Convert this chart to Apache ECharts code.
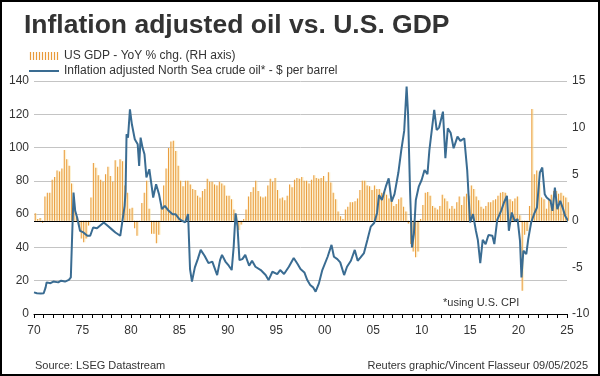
<!DOCTYPE html>
<html>
<head>
<meta charset="utf-8">
<script src="https://cdn.jsdelivr.net/npm/echarts@6/dist/echarts.min.js"></script>
<style>
  html, body { margin: 0; padding: 0; background: #fff; }
  #chart { width: 600px; height: 376px; }
</style>
</head>
<body>
<div id="chart"></div>
<script>
// US real GDP, YoY % change, quarterly from 1970 Q1 (right axis)
const gdpStartYear = 1970
const gdpYoY = [
  0.8, 0.2, 0.3, -0.2,   2.6, 3.0, 3.0, 4.4,   4.7, 5.4, 5.3, 5.6,   7.6, 6.6, 5.9, 4.0,
  1.5, 0.4, -0.6, -1.9,  -2.3, -1.9, -0.5, 2.5, 6.2, 5.7, 4.9, 4.4,  4.2, 5.0, 5.8, 4.8,
  4.2, 6.5, 5.8, 6.6,    6.4, 3.8, 3.0, 1.3,   1.4, -0.8, -1.6, -0.1, 1.9, 3.0, 4.3, 1.3,
  -1.4, -1.4, -2.4, -1.5, 1.6, 3.8, 5.6, 7.8,  8.5, 8.6, 7.5, 5.9,   4.3, 3.7, 4.3, 4.3,
  3.9, 3.4, 3.3, 2.7,    2.5, 3.2, 3.4, 4.5,   4.2, 4.2, 3.9, 3.8,   4.2, 4.0, 3.8, 2.7,
  2.7, 2.3, 1.2, 0.6,    -1.0, -0.4, 0.2, 1.2, 2.6, 3.1, 3.6, 4.3,   3.2, 2.6, 2.5, 2.6,
  3.8, 4.5, 4.2, 4.6,    3.3, 2.4, 2.5, 2.2,   2.7, 3.9, 3.6, 4.4,   4.6, 4.5, 4.7, 4.3,
  4.3, 4.0, 4.4, 4.9,    4.6, 4.5, 4.6, 4.8,   4.2, 5.2, 4.1, 3.0,   2.3, 1.0, 0.5, 0.2,
  1.2, 1.5, 2.0, 2.0,    2.1, 2.4, 3.3, 4.3,   4.3, 3.8, 3.7, 3.3,   3.8, 3.4, 3.4, 3.0,
  3.1, 2.8, 2.4, 2.6,    1.6, 1.8, 2.3, 2.5,   1.5, 1.0, -0.3, -2.5, -3.3, -3.9, -3.3, 0.2,
  1.7, 3.0, 3.1, 2.7,    1.6, 1.4, 1.2, 1.6,   2.8, 2.4, 2.1, 1.3,   1.6, 1.3, 2.0, 2.6,
  1.7, 2.6, 2.9, 2.7,    3.8, 3.4, 2.6, 2.2,   1.5, 1.3, 1.6, 2.0,   2.0, 2.2, 2.3, 2.7,
  3.0, 3.1, 3.0, 2.3,    2.3, 2.1, 2.4, 2.6,   0.6, -7.5, -1.5, -1.1, 1.6, 12.0, 5.0, 5.4,
  4.0, 2.5, 2.3, 1.3,    2.3, 2.8, 3.2, 3.2,   2.9, 3.0, 2.7, 2.5,   2.0
]

// Inflation adjusted North Sea crude oil, $ per barrel (left axis)
const oilYears = [
  1970.0, 1970.3, 1970.7, 1971.0, 1971.2, 1971.3, 1971.7, 1972.0, 1972.5, 1972.8, 1973.2, 1973.6, 1973.8, 1974.0,
  1974.08, 1974.25, 1974.45, 1974.75, 1975.1, 1975.5, 1975.8, 1976.1, 1976.5, 1976.8, 1977.2, 1977.6, 1978.0, 1978.4,
  1978.9, 1979.1, 1979.35, 1979.45, 1979.55, 1979.7, 1979.9, 1980.1, 1980.4, 1980.7, 1980.85, 1981.0, 1981.2, 1981.4,
  1981.6, 1981.9, 1982.0, 1982.3, 1982.6, 1982.9, 1983.2, 1983.5, 1983.9, 1984.3, 1984.6, 1985.0, 1985.3, 1985.6,
  1985.9, 1986.1, 1986.3, 1986.6, 1986.9, 1987.2, 1987.6, 1988.0, 1988.4, 1988.9, 1989.2, 1989.4, 1989.75, 1990.1,
  1990.4, 1990.6, 1990.8, 1991.0, 1991.2, 1991.5, 1991.8, 1992.2, 1992.5, 1992.85, 1993.4, 1993.9, 1994.2, 1994.6,
  1995.1, 1995.4, 1995.8, 1996.3, 1996.8, 1997.2, 1997.5, 1997.9, 1998.2, 1998.5, 1998.8, 1999.06, 1999.4, 1999.75,
  2000.3, 2000.7, 2000.95, 2001.3, 2001.6, 2002.0, 2002.3, 2002.7, 2003.1, 2003.4, 2003.7, 2004.05, 2004.4, 2004.75,
  2005.1, 2005.4, 2005.6, 2005.9, 2006.3, 2006.6, 2006.9, 2007.2, 2007.6, 2007.9, 2008.2, 2008.45, 2008.6, 2008.8,
  2009.0, 2009.2, 2009.4, 2009.7, 2010.0, 2010.3, 2010.6, 2010.8, 2011.3, 2011.55, 2011.8, 2012.2, 2012.45, 2012.7,
  2013.0, 2013.3, 2013.7, 2014.0, 2014.4, 2014.7, 2015.0, 2015.3, 2015.6, 2015.8, 2016.05, 2016.3, 2016.6, 2016.9,
  2017.3, 2017.5, 2017.8, 2018.2, 2018.5, 2018.8, 2019.0, 2019.3, 2019.6, 2019.9, 2020.15, 2020.3, 2020.5, 2020.8,
  2021.0, 2021.3, 2021.6, 2021.9, 2022.2, 2022.45, 2022.7, 2022.9, 2023.3, 2023.5, 2023.75, 2024.0, 2024.3, 2024.6,
  2024.8, 2025.0, 2025.2, 2025.35
]
const oilPrice = [
  13, 12.5, 12.3, 12.5, 16, 19, 18.5, 19.5, 19, 20, 19.5, 20.5, 22, 23,
  73, 62, 58, 50, 49, 47, 47, 52, 51.5, 53, 55, 53, 51, 49,
  47, 48, 65, 74, 108, 106, 123, 114, 105, 102, 89, 106, 100, 96,
  82, 87, 88, 70, 78, 72, 63, 65, 62, 60, 60, 57, 56, 55,
  60, 27, 19.5, 28, 33, 38.5, 35, 30.6, 31.5, 23.4, 32.4, 35.5, 31.5, 29,
  26.4, 40, 60.5, 52.5, 32.4, 33, 35.5, 29, 32, 28.4, 26.4, 23.4, 20.4, 25.4,
  24, 26.4, 24, 28.4, 33.6, 30, 27, 25, 20.4, 17.4, 16, 13.4, 18.4, 26.4,
  34.4, 41.5, 34.4, 33, 31, 23.4, 28.4, 32, 38.5, 32, 34, 36.6, 44.5, 52.5,
  54.7, 60.7, 71.5, 68.5, 76.5, 81.5, 67.5, 72, 85, 98.5, 110, 136.6, 120, 75,
  40, 48, 68.5, 76.5, 80.5, 86.5, 84, 98.5, 122.6, 110.6, 112, 121.6, 93.6, 111.6,
  108.7, 99.6, 106.6, 104, 105.6, 86.5, 55, 60, 50, 44.5, 30.5, 44.5, 42, 47.5,
  47, 42, 56.5, 62, 67, 71, 50, 61, 56, 57, 44, 22, 38, 36,
  45, 55, 60, 64, 85, 88, 72, 70, 68, 62, 76, 63, 68, 63,
  59, 60, 55, 52
]

const leftTicks = { min: 0, max: 140, interval: 20 }
const rightTicks = { min: -10, max: 15, interval: 5 }

const gdpName = 'US GDP - YoY % chg. (RH axis)'
const oilName = 'Inflation adjusted North Sea crude oil* - $ per barrel'

const gdpData = gdpYoY.map((v, i) => [gdpStartYear + i / 4 + 0.125, v])
const oilData = oilYears.map((y, i) => [y, oilPrice[i]])

const font = '"Liberation Sans", Arial, sans-serif'
// legend icons
const stripes = 'path://' + Array.from({ length: 10 }, (_, i) => `M${i * 3},0h1.2v8h-1.2z`).join(' ')
const lineIcon = 'path://M0,3h30v2h-30z M0,0h0.01v0.01h-0.01z M0,8h0.01v-0.01h-0.01z'

const chart = echarts.init(document.getElementById('chart'), null, { renderer: 'canvas' })
const option = {
  backgroundColor: '#fff',
  animation: false,
  textStyle: { fontFamily: font },
  title: {
    text: 'Inflation adjusted oil vs. U.S. GDP',
    left: 19,
    top: 7,
    textStyle: { fontSize: 26.5, fontWeight: 'bold', color: '#333', fontFamily: font }
  },
  legend: {
    orient: 'vertical',
    left: 29,
    top: 50,
    padding: 0,
    itemGap: 3,
    itemWidth: 30,
    itemHeight: 8,
    textStyle: { fontSize: 12, color: '#333', fontFamily: font },
    data: [
      { name: gdpName, icon: stripes },
      { name: oilName, icon: lineIcon }
    ]
  },
  grid: {
    left: 34,
    right: 33,
    top: 81,
    bottom: 62
  },
  xAxis: {
    type: 'value',
    min: 1970,
    max: 2025,
    interval: 5,
    splitLine: { show: false },
    axisLine: { onZero: false, lineStyle: { color: '#000', width: 1 } },
    axisTick: { show: true, length: 4, lineStyle: { color: '#000' } },
    minorTick: { show: true, splitNumber: 5, length: 4, lineStyle: { color: '#000' } },
    axisLabel: {
      margin: 11,
      fontSize: 12,
      color: '#333',
      formatter: v => String(v % 100).padStart(2, '0')
    }
  },
  yAxis: [
    {
      type: 'value',
      ...leftTicks,
      axisLine: { show: false },
      axisTick: { show: false },
      axisLabel: { margin: 5, fontSize: 12, color: '#333' },
      splitLine: { lineStyle: { color: '#c4c4c4', width: 1 } }
    },
    {
      type: 'value',
      ...rightTicks,
      position: 'right',
      axisLine: { show: false },
      axisTick: { show: false },
      axisLabel: { margin: 5, fontSize: 12, color: '#333' },
      splitLine: { show: false }
    }
  ],
  series: [
    {
      name: 'gdp-fill',
      type: 'bar',
      yAxisIndex: 1,
      barWidth: 2.4,
      barGap: '-100%',
      itemStyle: { color: 'rgba(251, 226, 160, 0.45)' },
      data: gdpData,
      silent: true
    },
    {
      name: gdpName,
      type: 'bar',
      yAxisIndex: 1,
      barWidth: 1,
      barGap: '-100%',
      itemStyle: { color: '#e99a3a' },
      data: gdpData,
      markLine: {
        silent: true,
        symbol: 'none',
        label: { show: false },
        lineStyle: { color: '#000', type: 'solid', width: 1 },
        data: [{ yAxis: 0 }]
      }
    },
    {
      name: oilName,
      type: 'line',
      yAxisIndex: 0,
      symbol: 'none',
      color: '#3a6c92',
      lineStyle: { width: 2, color: '#3a6c92' },
      data: oilData,
      z: 5
    }
  ],
  graphic: [
    {
      type: 'rect',
      shape: { x: 1, y: 1, width: 598, height: 374 },
      style: { fill: 'none', stroke: '#000', lineWidth: 2 },
      silent: true
    },
    {
      type: 'text',
      left: 443,
      top: 297,
      style: { text: '*using U.S. CPI', font: '11px ' + font, fill: '#333' }
    },
    {
      type: 'text',
      left: 35,
      top: 360,
      style: { text: 'Source: LSEG Datastream', font: '11px ' + font, fill: '#333' }
    },
    {
      type: 'text',
      right: 12,
      top: 360,
      style: { text: 'Reuters graphic/Vincent Flasseur 09/05/2025', font: '11px ' + font, fill: '#333' }
    }
  ]
}
chart.setOption(option)
</script>
</body>
</html>
